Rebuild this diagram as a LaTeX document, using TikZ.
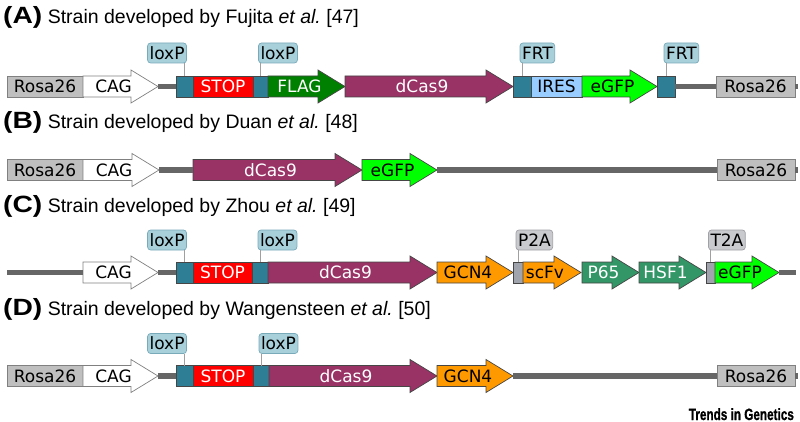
\documentclass[tikz,border=0pt]{standalone}
\usepackage{fontspec}
\setmainfont{Liberation Sans}
\newfontfamily\seqfont{DejaVu Sans}
\newfontfamily\trendsfont[FakeBold=1.2]{Liberation Sans Bold}
\usepackage{tikz}

\definecolor{rosa}{RGB}{191,191,191}
\definecolor{rosaline}{RGB}{128,128,128}
\definecolor{featline}{RGB}{70,70,70}
\definecolor{loxteal}{RGB}{46,126,150}
\definecolor{flaggreen}{RGB}{0,128,0}
\definecolor{caspurple}{RGB}{153,51,102}
\definecolor{iresblue}{RGB}{153,204,255}
\definecolor{gfpgreen}{RGB}{0,255,0}
\definecolor{gcnorange}{RGB}{255,153,0}
\definecolor{p65green}{RGB}{51,150,102}
\definecolor{ptagrey}{RGB}{160,164,172}
\definecolor{lblfill}{RGB}{168,208,218}
\definecolor{lblline}{RGB}{120,170,185}
\definecolor{lblgreyfill}{RGB}{200,202,206}
\definecolor{lblgreyline}{RGB}{160,160,166}
\definecolor{tickline}{RGB}{160,160,160}
\definecolor{bbone}{RGB}{102,102,102}

\tikzset{
  seqfnt/.style={font=\seqfont\fontsize{17}{19}\selectfont},
  feat/.style={draw=featline, line width=0.7pt},
  featbox/.style={feat, rectangle, minimum height=21, inner sep=0, outer sep=0, anchor=west, seqfnt},
  rosabox/.style={featbox, fill=rosa, draw=rosaline},
  seqtext/.style={inner sep=0, outer sep=0, seqfnt},
  lbl/.style={rectangle, rounded corners=3, draw=lblline, fill=lblfill, line width=0.7pt,
    minimum height=20, inner xsep=2, inner ysep=0, outer sep=0, seqfnt},
  lblgrey/.style={lbl, draw=lblgreyline, fill=lblgreyfill},
  tick/.style={draw=tickline, line width=0.6pt},
  backbone/.style={draw=bbone, line width=5.5},
  title/.style={anchor=base west, inner sep=0, font=\fontsize{19.5}{22}\selectfont},
}

% panel letter of a title
\newcommand{\panel}[1]{{\bfseries\fontsize{23.5}{26}\selectfont\scalebox{1.2}[1]{(#1)}}}

% name, fill style, text colour, x start, x tip, y, text
\newcommand{\genearrow}[7]{%
  \filldraw[feat,#2] (#4,#6-10.5) -- (#5-27,#6-10.5) -- (#5-27,#6-16.5) -- (#5,#6)
    -- (#5-27,#6+16.5) -- (#5-27,#6+10.5) -- (#4,#6+10.5) -- cycle;
  \node[seqtext,text=#3] (#1) at ({(#4+#5)/2-7},#6) {#7};
  \coordinate (#1-in) at (#4,#6);
  \coordinate (#1-out) at (#5,#6);
}

\begin{document}
\frenchspacing
\begin{tikzpicture}[x=1pt,y=-1pt]
  \useasboundingbox (0,0) rectangle (800,422);

  % (A)
  \node[title] (ttlA) at (3,24) {\panel{A} Strain developed by Fujita \textit{et al.} [47]};
  \node[rosabox, minimum width=76] (rosaA1) at (7,86.5) {Rosa26};
  \genearrow{cagA}{fill=white,draw=rosaline}{black}{83}{158}{86.5}{CAG}
  \node[featbox, fill=loxteal, minimum width=17] (loxA1) at (176,86.5) {};
  \node[featbox, fill=red, text=white, minimum width=60] (stopA) at (193,86.5) {STOP};
  \node[featbox, fill=loxteal, minimum width=15] (loxA2) at (253,86.5) {};
  \genearrow{flagA}{fill=flaggreen}{white}{268}{345}{86.5}{FLAG}
  \genearrow{casA}{fill=caspurple}{white}{345}{513}{86.5}{dCas9}
  \node[featbox, fill=loxteal, minimum width=18] (frtA1) at (513,86.5) {};
  \node[featbox, fill=iresblue, minimum width=51] (iresA) at (531,86.5) {IRES};
  \genearrow{gfpA}{fill=gfpgreen}{black}{582}{657}{86.5}{eGFP}
  \node[featbox, fill=loxteal, minimum width=18] (frtA2) at (657,86.5) {};
  \node[rosabox, minimum width=79] (rosaA2) at (716,86.5) {Rosa26};
  \coordinate (endA) at (798,86.5);
  \draw[backbone] (cagA-out) -- (loxA1.west);
  \draw[backbone] (frtA2.east) -- (rosaA2.west);
  \draw[backbone] (rosaA2.east) -- (endA);

  \node[lbl, anchor=south east] (lblA1) at ([shift={(2,-13)}]loxA1.north) {loxP};
  \node[lbl, anchor=south west] (lblA2) at ([shift={(-2,-13)}]loxA2.north) {loxP};
  \node[lbl, anchor=south west] (lblA3) at ([shift={(-2,-13)}]frtA1.north) {FRT};
  \node[lbl, anchor=south west] (lblA4) at ([shift={(-2,-13)}]frtA2.north) {FRT};
  \draw[tick] (loxA1.north) -- (lblA1.south -| loxA1.north);
  \draw[tick] (loxA2.north) -- (lblA2.south -| loxA2.north);
  \draw[tick] (frtA1.north) -- (lblA3.south -| frtA1.north);
  \draw[tick] (frtA2.north) -- (lblA4.south -| frtA2.north);

  % (B)
  \node[title] (ttlB) at (3,129) {\panel{B} Strain developed by Duan \textit{et al.} [48]};
  \node[rosabox, minimum width=76] (rosaB1) at (7,170) {Rosa26};
  \genearrow{cagB}{fill=white,draw=rosaline}{black}{83}{159}{170}{CAG}
  \genearrow{casB}{fill=caspurple}{white}{193}{362}{170}{dCas9}
  \genearrow{gfpB}{fill=gfpgreen}{black}{362}{437}{170}{eGFP}
  \node[rosabox, minimum width=78] (rosaB2) at (717,170) {Rosa26};
  \coordinate (endB) at (798,170);
  \draw[backbone] (cagB-out) -- (casB-in);
  \draw[backbone] (gfpB-out) -- (rosaB2.west);
  \draw[backbone] (rosaB2.east) -- (endB);

  % (C)
  \node[title] (ttlC) at (3,212) {\panel{C} Strain developed by Zhou \textit{et al.} [49]};
  \coordinate (startC) at (7,272.5);
  \genearrow{cagC}{fill=white,draw=rosaline}{black}{83}{158}{272.5}{CAG}
  \node[featbox, fill=loxteal, minimum width=17] (loxC1) at (176,272.5) {};
  \node[featbox, fill=red, text=white, minimum width=59] (stopC) at (193,272.5) {STOP};
  \node[featbox, fill=loxteal, minimum width=16] (loxC2) at (252,272.5) {};
  \genearrow{casC}{fill=caspurple}{white}{268}{437}{272.5}{dCas9}
  \genearrow{gcnC}{fill=gcnorange}{black}{437}{513}{272.5}{GCN4}
  \node[featbox, fill=ptagrey, minimum width=10] (p2aC) at (513,272.5) {};
  \genearrow{scfvC}{fill=gcnorange}{black}{523}{581}{272.5}{scFv}
  \genearrow{p65C}{fill=p65green}{white}{582}{639}{272.5}{P65}
  \genearrow{hsfC}{fill=p65green}{white}{639}{706}{272.5}{HSF1}
  \node[featbox, fill=ptagrey, minimum width=9] (t2aC) at (706,272.5) {};
  \genearrow{gfpC}{fill=gfpgreen}{black}{715}{779}{272.5}{eGFP}
  \coordinate (endC) at (796,272.5);
  \draw[backbone] (startC) -- (cagC-in);
  \draw[backbone] (cagC-out) -- (loxC1.west);
  \draw[backbone] (gfpC-out) -- (endC);

  \node[lbl, anchor=south east] (lblC1) at ([shift={(2,-12)}]loxC1.north) {loxP};
  \node[lbl, anchor=south west] (lblC2) at ([shift={(-2,-12)}]loxC2.north) {loxP};
  \node[lblgrey, anchor=south west] (lblC3) at ([shift={(-2,-12)}]p2aC.north) {P2A};
  \node[lblgrey, anchor=south west] (lblC4) at ([shift={(-2,-12)}]t2aC.north) {T2A};
  \draw[tick] (loxC1.north) -- (lblC1.south -| loxC1.north);
  \draw[tick] (loxC2.north) -- (lblC2.south -| loxC2.north);
  \draw[tick] (p2aC.north) -- (lblC3.south -| p2aC.north);
  \draw[tick] (t2aC.north) -- (lblC4.south -| t2aC.north);

  % (D)
  \node[title] (ttlD) at (3,315) {\panel{D} Strain developed by Wangensteen \textit{et al.} [50]};
  \node[rosabox, minimum width=76] (rosaD1) at (7,376) {Rosa26};
  \genearrow{cagD}{fill=white,draw=rosaline}{black}{83}{158}{376}{CAG}
  \node[featbox, fill=loxteal, minimum width=17] (loxD1) at (176,376) {};
  \node[featbox, fill=red, text=white, minimum width=60] (stopD) at (193,376) {STOP};
  \node[featbox, fill=loxteal, minimum width=16] (loxD2) at (253,376) {};
  \genearrow{casD}{fill=caspurple}{white}{269}{437}{376}{dCas9}
  \genearrow{gcnD}{fill=gcnorange}{black}{437}{513}{376}{GCN4}
  \node[rosabox, minimum width=78] (rosaD2) at (717,376) {Rosa26};
  \coordinate (endD) at (798,376);
  \draw[backbone] (cagD-out) -- (loxD1.west);
  \draw[backbone] (gcnD-out) -- (rosaD2.west);
  \draw[backbone] (rosaD2.east) -- (endD);

  \node[lbl, anchor=south east] (lblD1) at ([shift={(2,-12)}]loxD1.north) {loxP};
  \node[lbl, anchor=south west] (lblD2) at ([shift={(-2,-12)}]loxD2.north) {loxP};
  \draw[tick] (loxD1.north) -- (lblD1.south -| loxD1.north);
  \draw[tick] (loxD2.north) -- (lblD2.south -| loxD2.north);

  \node[anchor=base east, inner sep=0, xscale=0.72, font=\trendsfont\fontsize{16.3}{18}\selectfont] (trends) at (794,420) {Trends in Genetics};
\end{tikzpicture}
\end{document}
